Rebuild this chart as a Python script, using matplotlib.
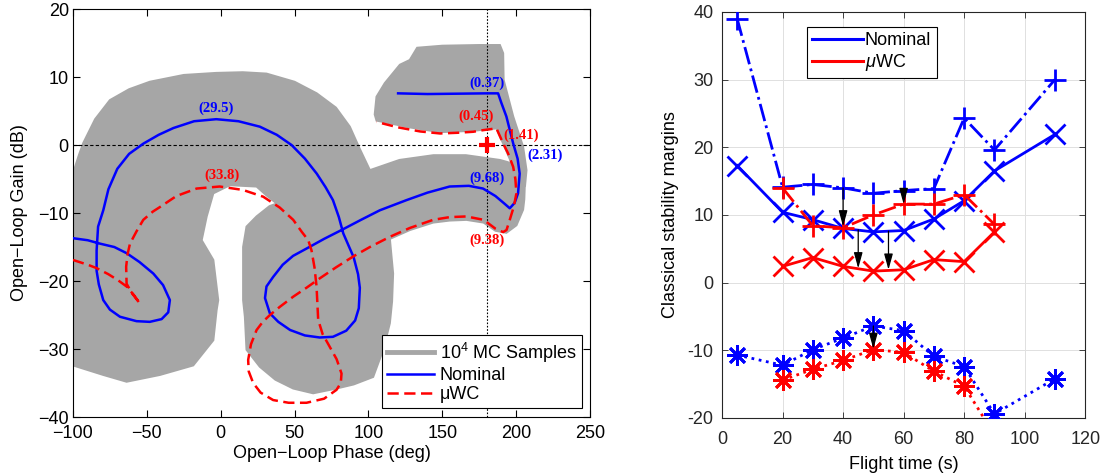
import numpy as np
import matplotlib
matplotlib.use("Agg")
import matplotlib.pyplot as plt

plt.rcParams['font.family'] = ['Liberation Sans', 'DejaVu Sans']
plt.rcParams['mathtext.fontset'] = 'custom'
plt.rcParams['mathtext.rm'] = 'Liberation Sans'
plt.rcParams['mathtext.it'] = 'Liberation Sans:italic'

# ---------------- Left panel data (Nichols chart) ----------------
nom_phase = [-100, -90, -81.7, -72, -63.7, -55, -45.6, -39, -34.4, -35.5, -40, -48, -57, -68.2,
             -75, -79.5, -82.5, -84, -84, -83, -79.5, -76, -70, -62, -52.4, -42, -32, -18, -3,
             12, 26.5, 38, 48, 57, 65, 71, 76, 80, 83, 87, 90, 93, 94.2, 93.5, 91, 85, 76, 67,
             57, 47, 39, 33.3, 30, 31, 35.5, 42, 49, 60, 70, 81.8, 95, 107.7, 125.8, 140, 155,
             168, 177.6, 186, 192, 195.7, 199, 201.3, 202.4, 201, 198, 193.4, 190, 187.8, 180,
             160, 140, 120.1]
nom_gain = [-13.7, -14.0, -14.5, -15.0, -15.9, -17.2, -18.9, -20.6, -22.8, -24.6, -25.6, -26.0,
            -25.9, -25.25, -24.2, -22.8, -20.5, -18.5, -15.5, -12, -9.6, -6.5, -3.5, -1.3, 0.2,
            1.5, 2.5, 3.5, 3.8, 3.5, 2.7, 1.5, 0, -2, -4.2, -6.2, -8.1, -10.6, -13, -15, -16.5,
            -19, -21, -24, -25.8, -27.3, -28.2, -28.3, -28, -27.2, -26, -24.75, -22.5, -20.8,
            -19.4, -17.6, -16.3, -15.0, -13.8, -12.5, -11.0, -9.6, -8.1, -7.0, -6.1, -6.0, -6.4,
            -7.5, -8.6, -9.3, -8.5, -7.1, -4.2, -2, 0.25, 4.2, 6.2, 7.6, 7.6, 7.55, 7.5, 7.6]

wc_phase = [-100, -90, -84, -76, -69.4, -63.7, -59, -54.7, -60, -63.7, -64, -63, -61.4, -57,
            -52.4, -46, -41, -30, -16.3, -0.7, 15, 28.8, 40, 49.1, 55, 59.3, 61.5, 63.5, 64.9,
            65.5, 66, 69, 73.9, 78.5, 81.8, 81.3, 78.4, 70, 58.1, 46, 35.5, 27, 22, 19, 18.6,
            20.5, 24.3, 28.5, 33.3, 40, 49.1, 58, 67.1, 78, 89.6, 101, 114.5, 128, 143.8, 155,
            166.4, 178, 186, 191.2, 193.5, 195.7, 198.5, 200.2, 199.5, 198, 194.5, 191.2, 188,
            186.7, 178, 170.9, 160, 148.5, 135, 120, 105.5]
wc_gain = [-16.9, -17.6, -18.1, -19.0, -19.9, -20.8, -22.0, -23.3, -21.8, -20.4, -17.9, -16,
           -14.5, -12.7, -11.0, -9.8, -9.1, -7.5, -6.4, -6.1, -6.6, -7.6, -9.2, -11.0, -12.8,
           -14.0, -15.5, -18, -20.8, -23.5, -25.7, -27.8, -29.7, -31.5, -33.6, -35, -36.0,
           -37.3, -37.9, -37.9, -37.5, -36.4, -35.0, -33.3, -31.6, -29.3, -27.2, -26, -25,
           -23.8, -22.3, -21, -19.6, -18, -16.4, -15.0, -13.5, -12.2, -11.0, -10.6, -10.5,
           -11, -12.3, -12.8, -12.5, -11.0, -9, -7.1, -5, -3.2, -1.2, 0.25, 1.8, 2.45, 2.2,
           1.95, 1.8, 1.7, 2.0, 2.6, 3.4]

# Monte-Carlo sample envelope (union of 10^4 curves), in 3 pieces
mc_left_phase = [-100, -96, -93, -85, -75, -62, -48, -25, -3, 15, 31, 50, 65, 78, 87.4, 94,
                 101, 106, 95, 70, 50, 38, 31, 24.3, 6.2, -5, -9.5, -12.9, -5, -1.7, -2.8, -5,
                 -18.6, -41.1, -63.7, -79.5, -100]
mc_left_gain = [-4.2, -1.5, 0.3, 3.8, 6.6, 8.2, 9.3, 10.3, 10.6, 10.7, 10.5, 9.3, 7.6, 5.5, 2.7,
                -0.5, -3.7, -8, -11.5, -11, -10, -8.6, -7.4, -6.1, -5.9, -7.1, -10.5, -14,
                -16.9, -22.8, -24.3, -28.7, -32.4, -33.8, -34.8, -33.8, -32.4]
mc_right_phase = [95, 101, 121, 144, 166, 189, 194, 200, 206, 205.5, 204.7, 200.2, 193.4, 186,
                  178, 166.4, 155, 143.8, 128, 114.5, 116.7, 116, 114.5, 110, 103.2, 90, 78.4,
                  62.6, 49.1, 37, 26.5, 17.5, 16.4, 15.2, 15.2, 17.5, 24.3, 33, 38, 50, 70, 90]
mc_right_gain = [-3, -3.7, -2.2, -1.5, -1.5, -2.2, -2.5, -3.0, -5.0, -8.0, -9.5, -11.8, -12.9,
                 -12.6, -11.4, -11.0, -11.1, -11.4, -12.5, -13.8, -18.9, -23, -26.2, -30.1,
                 -34.1, -35.2, -35.8, -36.5, -35.8, -34.5, -32.6, -30.1, -25.25, -22.8, -15,
                 -12, -10.5, -9.0, -8.6, -9, -8, -5]
mc_top_phase = [104.3, 105.5, 111.1, 121.3, 128, 133, 150, 175, 189, 191.2, 191.5, 198, 204.7,
                207, 206, 200, 198, 191.2, 186.7, 170.9, 148.5, 128, 105.5]
mc_top_gain = [4.5, 7.1, 9.1, 11.8, 12.5, 14.3, 14.6, 14.7, 14.7, 13.5, 9.6, 4.2, -0.25, -3.7,
               -6, -6, -3.2, 0.25, 2.45, 2.1, 1.9, 2.6, 3.6]

critical_point = (180, 0)

nom_labels = ['(29.5)', '(0.37)', '(9.68)', '(2.31)']
nom_label_xy = [(-3, 5.4), (180, 9.1), (180, -4.9), (219.4, -1.5)]
wc_labels = ['(33.8)', '(0.45)', '(1.41)', '(9.38)']
wc_label_xy = [(0.6, -4.4), (173.2, 4.2), (203.5, 1.5), (180, -14.0)]

left_xticks = [-100, -50, 0, 50, 100, 150, 200, 250]
left_yticks = [-40, -30, -20, -10, 0, 10, 20]

# ---------------- Right panel data (margins vs flight time) ----------------
t_nom = [5, 20, 30, 40, 50, 60, 70, 80, 90, 110]
nom_plus = [39.0, 14.1, 14.5, 14.0, 13.2, 13.6, 13.9, 24.3, 19.6, 30.0]
nom_x = [17.3, 10.4, 9.3, 8.0, 7.5, 7.7, 9.4, 12.1, 16.5, 21.9]
nom_star = [-10.7, -12.2, -9.9, -8.2, -6.4, -7.1, -10.9, -12.4, -19.4, -14.2]
t_wc = [20, 30, 40, 50, 60, 70, 80, 90]
wc_plus = [14.0, 8.4, 8.1, 10.0, 11.6, 11.6, 13.0, 8.6]
wc_x = [2.4, 3.7, 2.4, 1.7, 1.9, 3.4, 3.1, 7.5]
wc_star = [-14.4, -12.8, -11.5, -9.9, -10.3, -13.1, -15.3, -22.5]

arrow_t = [40, 45, 55, 60, 50]
arrow_from = [14.0, 7.8, 7.6, 13.6, -6.4]
arrow_to = [8.3, 2.1, 1.9, 11.6, -9.8]

right_xticks = [0, 20, 40, 60, 80, 100, 120]
right_yticks = [-20, -10, 0, 10, 20, 30, 40]
right_yticklabels = ['-20', '-10', '0', '10', '20', '30', '40']

BLUE = (0, 0, 1)
RED = (1, 0, 0)
GRAY = (0.65, 0.65, 0.65)
FS = 13

fig = plt.figure(figsize=(11.04, 4.75), dpi=100)

# ================= Left panel =================
ax = fig.add_axes([0.0661, 0.122, 0.4683, 0.859])
for px_, gy_ in [(mc_left_phase, mc_left_gain), (mc_right_phase, mc_right_gain),
                 (mc_top_phase, mc_top_gain)]:
    ax.fill(px_, gy_, facecolor=GRAY, edgecolor=GRAY, lw=1.5, zorder=1)
ax.axhline(0, color='k', lw=0.8, ls=(0, (3, 2)), zorder=2)
ax.axvline(180, color='k', lw=0.8, ls=(0, (1.5, 1.5)), zorder=2)
ax.plot(nom_phase, nom_gain, color=BLUE, lw=1.8, zorder=3)
ax.plot(wc_phase, wc_gain, color=RED, lw=1.8, ls=(0, (4.5, 2.2)), zorder=3)
ax.plot([critical_point[0]], [critical_point[1]], marker='+', color=RED, ms=11, mew=3, zorder=4)
# legend proxies
ax.plot([], [], color=GRAY, lw=3.5, label='10$^4$ MC Samples')
ax.plot([], [], color=BLUE, lw=1.8, label='Nominal')
ax.plot([], [], color=RED, lw=1.8, ls=(0, (4.5, 2.2)), label='\u03bcWC')
for s, (x, y) in zip(nom_labels, nom_label_xy):
    ax.text(x, y, s, color=BLUE, fontsize=10.5, fontweight='bold', family='Liberation Serif',
            ha='center', va='center', zorder=5)
for s, (x, y) in zip(wc_labels, wc_label_xy):
    ax.text(x, y, s, color=RED, fontsize=10.5, fontweight='bold', family='Liberation Serif',
            ha='center', va='center', zorder=5)
ax.set_xlim(-100, 250)
ax.set_ylim(-40, 20)
ax.set_xticks(left_xticks)
ax.set_yticks(left_yticks)
ax.tick_params(direction='in', top=True, right=True, labelsize=FS, length=5, width=0.8)
ax.tick_params(axis='x', pad=6)
ax.tick_params(axis='y', pad=3)
ax.set_xlabel('Open\u2212Loop Phase (deg)', fontsize=FS, labelpad=2)
ax.set_ylabel('Open\u2212Loop Gain (dB)', fontsize=FS, labelpad=7)
for sp in ax.spines.values():
    sp.set_linewidth(0.8)
leg = ax.legend(loc='lower right', bbox_to_anchor=(0.985, 0.021), fontsize=FS,
                frameon=True, fancybox=False, framealpha=1, edgecolor='k',
                handlelength=2.6, handletextpad=0.3, labelspacing=0.12, borderpad=0.3,
                borderaxespad=0)
leg.get_frame().set_linewidth(0.8)

# ================= Right panel =================
ax2 = fig.add_axes([0.654, 0.12, 0.329, 0.855])
ax2.grid(True, color=(0.88, 0.88, 0.88), lw=0.7, zorder=0)
ax2.set_axisbelow(True)
ms_p, ms_x, ms_s = 16, 14, 15
lw = 2.0
ast = (8, 2, 0)
ax2.plot(t_nom, nom_plus, color=BLUE, lw=lw, ls='-.', marker='+', ms=ms_p, mew=lw, zorder=3)
ax2.plot(t_nom, nom_x, color=BLUE, lw=lw, ls='-', marker='x', ms=ms_x, mew=lw, zorder=3)
ax2.plot(t_nom, nom_star, color=BLUE, lw=lw, ls=':', marker=ast, ms=ms_s, mew=lw, zorder=3)
ax2.plot(t_wc, wc_plus, color=RED, lw=lw, ls='-.', marker='+', ms=ms_p, mew=lw, zorder=3)
ax2.plot(t_wc, wc_x, color=RED, lw=lw, ls='-', marker='x', ms=ms_x, mew=lw, zorder=3)
ax2.plot(t_wc, wc_star, color=RED, lw=lw, ls=':', marker=ast, ms=ms_s, mew=lw, zorder=3)
for t, a, b in zip(arrow_t, arrow_from, arrow_to):
    ax2.annotate('', xy=(t, b), xytext=(t, a),
                 arrowprops=dict(arrowstyle='-|>,head_length=0.8,head_width=0.22',
                                 color='k', lw=0.9, mutation_scale=12,
                                 shrinkA=0, shrinkB=0), zorder=5)
ax2.plot([], [], color=BLUE, lw=2.2, label='Nominal')
ax2.plot([], [], color=RED, lw=2.2, label='$\\mu$WC')
ax2.set_xlim(0, 120)
ax2.set_ylim(-20, 40)
ax2.set_xticks(right_xticks)
ax2.set_yticks(right_yticks, right_yticklabels)
dark = (0.15, 0.15, 0.15)
ax2.tick_params(direction='in', top=True, right=True, labelsize=FS, length=4, width=0.6,
                colors=dark)
ax2.tick_params(axis='x', pad=9)
ax2.tick_params(axis='y', pad=6)
for sp in ax2.spines.values():
    sp.set_linewidth(0.8)
    sp.set_color(dark)
ax2.set_xlabel('Flight time (s)', fontsize=FS, labelpad=6)
ax2.set_ylabel('Classical stability margins', fontsize=FS, labelpad=6)
leg2 = ax2.legend(loc='upper left', bbox_to_anchor=(0.234, 0.963), fontsize=FS,
                  frameon=True, fancybox=False, framealpha=1, edgecolor='k',
                  handlelength=2.8, handletextpad=0.1, labelspacing=0.15, borderpad=0.3,
                  borderaxespad=0)
leg2.get_frame().set_linewidth(0.8)

fig.savefig('out.png', dpi=100)
